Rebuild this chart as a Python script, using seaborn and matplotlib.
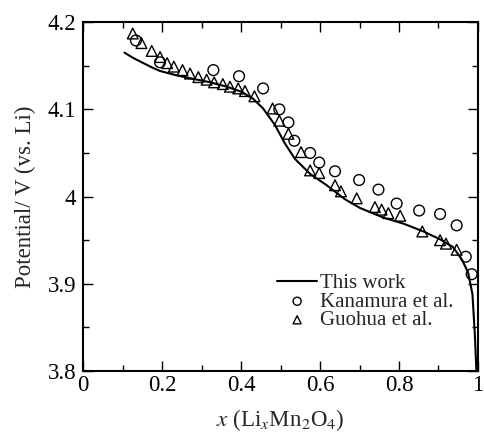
import matplotlib
matplotlib.use("Agg")
import matplotlib.pyplot as plt
import seaborn as sns
import pandas as pd
from matplotlib.ticker import MultipleLocator, FormatStrFormatter

# This work (model curve)
work_x = [0.105, 0.127, 0.153, 0.175, 0.195, 0.237, 0.279, 0.322, 0.364, 0.402,
          0.431, 0.456, 0.486, 0.511, 0.537, 0.575, 0.617, 0.663, 0.701, 0.760,
          0.811, 0.862, 0.904, 0.937, 0.959, 0.975, 0.986, 0.992, 0.996]
work_y = [4.165, 4.159, 4.153, 4.148, 4.144, 4.139, 4.135, 4.131, 4.126, 4.120,
          4.112, 4.101, 4.082, 4.061, 4.043, 4.026, 4.013, 3.997, 3.987, 3.976,
          3.969, 3.960, 3.951, 3.942, 3.928, 3.913, 3.888, 3.842, 3.800]

# Kanamura et al.
kan_x = [0.134, 0.195, 0.330, 0.395, 0.456, 0.497, 0.520, 0.535, 0.575, 0.598,
         0.638, 0.699, 0.748, 0.794, 0.851, 0.904, 0.946, 0.969, 0.984]
kan_y = [4.179, 4.154, 4.145, 4.138, 4.124, 4.100, 4.085, 4.064, 4.050, 4.039,
         4.029, 4.019, 4.008, 3.992, 3.984, 3.980, 3.967, 3.931, 3.911]

# Guohua et al.
guo_x = [0.126, 0.148, 0.174, 0.195, 0.213, 0.230, 0.252, 0.271, 0.292, 0.313,
         0.332, 0.354, 0.372, 0.393, 0.410, 0.434, 0.480, 0.497, 0.520, 0.552,
         0.575, 0.598, 0.638, 0.653, 0.693, 0.739, 0.756, 0.773, 0.803, 0.859,
         0.904, 0.919, 0.946]
guo_y = [4.187, 4.176, 4.167, 4.160, 4.153, 4.149, 4.145, 4.141, 4.137, 4.134,
         4.131, 4.129, 4.126, 4.124, 4.121, 4.115, 4.101, 4.087, 4.072, 4.051,
         4.030, 4.027, 4.013, 4.006, 3.998, 3.988, 3.985, 3.981, 3.978, 3.960,
         3.950, 3.946, 3.939]

sns.set_style("ticks")
plt.rcParams["font.family"] = ["Liberation Serif", "DejaVu Serif"]
plt.rcParams["mathtext.fontset"] = "stix"

df_work = pd.DataFrame({"x": work_x, "y": work_y})
df_kan = pd.DataFrame({"x": kan_x, "y": kan_y})
df_guo = pd.DataFrame({"x": guo_x, "y": guo_y})

fig = plt.figure(figsize=(4.84, 4.43), dpi=100)
ax = fig.add_axes([0.1715, 0.1625, 0.8161, 0.7875])

sns.lineplot(data=df_work, x="x", y="y", ax=ax, color="black", lw=1.5,
             label="This work", sort=False)
sns.scatterplot(data=df_kan, x="x", y="y", ax=ax, marker="o", s=60,
                facecolors="none", edgecolor="black", linewidth=1.0,
                label="Kanamura et al.")
sns.scatterplot(data=df_guo, x="x", y="y", ax=ax, marker="^", s=60,
                facecolors="none", edgecolor="black", linewidth=1.0,
                label="Guohua et al.")

ax.set_xlim(0, 1)
ax.set_ylim(3.8, 4.2)
ax.xaxis.set_major_locator(MultipleLocator(0.2))
ax.xaxis.set_minor_locator(MultipleLocator(0.1))
ax.yaxis.set_major_locator(MultipleLocator(0.1))
ax.yaxis.set_minor_locator(MultipleLocator(0.05))
ax.xaxis.set_major_formatter(FormatStrFormatter("%g"))
ax.yaxis.set_major_formatter(FormatStrFormatter("%g"))
ax.tick_params(which="both", direction="in", top=True, right=True,
               labelsize=16.5, width=1.0, colors="black")
ax.tick_params(which="major", length=7)
ax.tick_params(axis="x", which="major", pad=3)
ax.tick_params(axis="y", which="major", pad=5)
ax.tick_params(which="minor", length=4)
for s in ax.spines.values():
    s.set_linewidth(1.5)
    s.set_color("black")

ax.set_xlabel(r"$x$ (Li$_x$Mn$_2$O$_4$)", fontsize=16.5, labelpad=8)
ax.set_ylabel("Potential/ V (vs. Li)", fontsize=16.5, labelpad=8)

leg = ax.legend(loc="lower right", bbox_to_anchor=(0.975, 0.075), frameon=False,
                fontsize=15, handlelength=1.9, handletextpad=0.15,
                labelspacing=-0.05, borderpad=0.2, markerscale=0.75)

fig.savefig("out.png", dpi=100)
